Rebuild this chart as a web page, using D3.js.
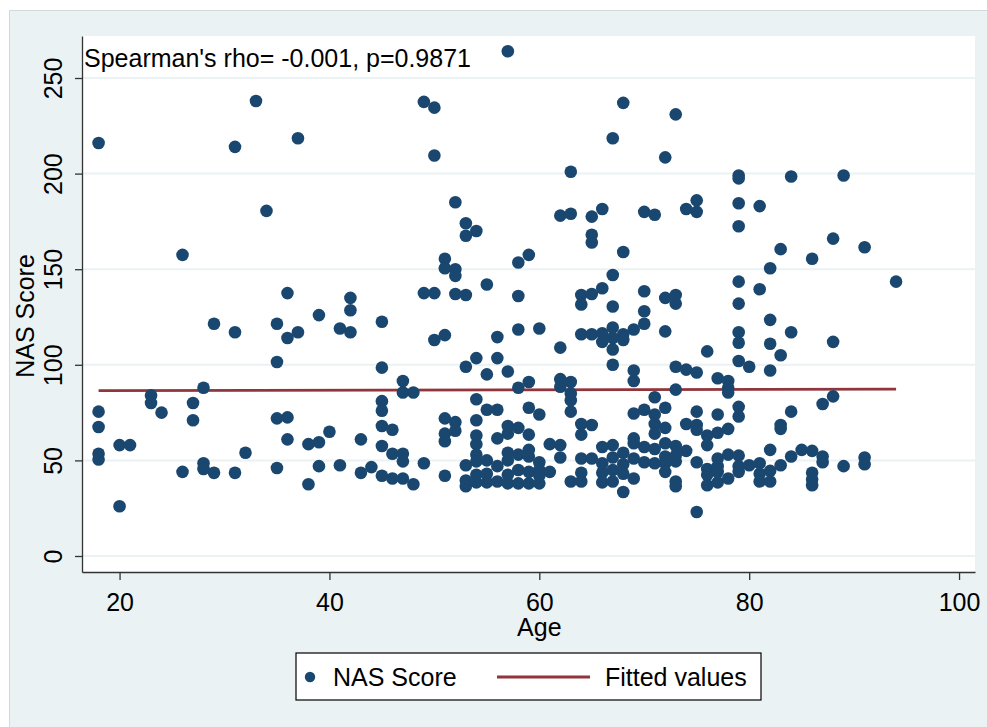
<!DOCTYPE html>
<html>
<head>
<meta charset="utf-8">
<script src="https://cdn.jsdelivr.net/npm/d3@7"></script>
<style>
  body { margin: 0; background: #fff; }
  svg text { font-family: "Liberation Sans", Arial, sans-serif; fill: #000; }
</style>
</head>
<body>
<div id="chart"></div>
<script>
// ages that have at least one patient, and the NAS scores seen at each age
const ages = [18, 20, 21, 23, 24, 26, 27, 28, 29, 31, 32, 33, 34, 35, 36, 37, 38, 39, 40, 41,
  42, 43, 44, 45, 46, 47, 48, 49, 50, 51, 52, 53, 54, 55, 56, 57, 58, 59, 60, 61,
  62, 63, 64, 65, 66, 67, 68, 69, 70, 71, 72, 73, 74, 75, 76, 77, 78, 79, 80, 81,
  82, 83, 84, 85, 86, 87, 88, 89, 91, 94];

const scoresAtAge = [
  [216, 75.5, 67.5, 53.5, 50.5],          // 18
  [58, 26],                               // 20
  [58],                                   // 21
  [84, 80],                               // 23
  [75],                                   // 24
  [157.5, 44],                            // 26
  [80, 71],                               // 27
  [88, 48.5, 45.5],                       // 28
  [121.5, 43.5],                          // 29
  [214, 117, 43.5],                       // 31
  [54],                                   // 32
  [238],                                  // 33
  [180.5],                                // 34
  [121.5, 101.5, 72, 46],                 // 35
  [137.5, 114, 72.5, 61],                 // 36
  [218.5, 117],                           // 37
  [58.5, 37.5],                           // 38
  [126, 59.5, 47],                        // 39
  [65],                                   // 40
  [119, 47.5],                            // 41
  [135, 128.5, 117],                      // 42
  [61, 43.5],                             // 43
  [46.5],                                 // 44
  [122.5, 98.5, 81, 76, 68, 57.5, 42],    // 45
  [66, 53.5, 40.5],                       // 46
  [91.5, 85.5, 53.5, 49.5, 40.5],         // 47
  [85.5, 37.5],                           // 48
  [237.5, 137.5, 48.5],                   // 49
  [234.5, 209.5, 137.5, 113],             // 50
  [155.5, 150.5, 115.5, 72, 64, 60, 42],  // 51
  [185, 150, 146.5, 137, 70, 65.5],       // 52
  [174, 167.5, 136.5, 99, 47.5, 39.5, 36.5], // 53
  [170, 103.5, 82, 71, 63, 58.5, 53, 49.5, 42.5, 38.5], // 54
  [142, 95, 76.5, 50, 43, 38.5],          // 55
  [114.5, 103.5, 76.5, 61.5, 47, 39],     // 56
  [264, 96.5, 68, 64, 54, 50, 42.5, 38],  // 57
  [153.5, 136, 118.5, 88, 67, 53, 45, 38], // 58
  [157.5, 91, 77.5, 63.5, 55.5, 52, 44, 38], // 59
  [119, 74, 49, 45, 42, 38],              // 60
  [58.5, 44],                             // 61
  [178, 109, 92.5, 88.5, 58, 51.5],       // 62
  [201, 179, 91, 85, 81.5, 75.5, 39],     // 63
  [136.5, 131.5, 116, 69, 63.5, 51, 43.5, 39], // 64
  [177.5, 168, 164, 137, 116, 68.5, 51],  // 65
  [181.5, 140, 116.5, 112, 57, 48.5, 43.5, 38.5], // 66
  [218.5, 147, 130.5, 119.5, 114, 108, 100, 58, 51.5, 45, 39], // 67
  [237, 159, 116, 113, 54, 48, 43, 33.5], // 68
  [118.5, 97, 91.5, 74.5, 61.5, 59, 51, 40.5], // 69
  [180, 138.5, 128, 121.5, 76.5, 57, 49], // 70
  [178.5, 83, 74, 69, 64, 56, 48.5],      // 71
  [208.5, 135, 117.5, 77.5, 67, 59, 52, 48.5, 44], // 72
  [231, 136.5, 132, 99, 87, 57.5, 52.5, 49.5, 39, 36.5], // 73
  [181.5, 97.5, 69, 55],                  // 74
  [186, 180, 96, 75.5, 68.5, 66, 49, 23], // 75
  [107, 63, 58, 45.5, 42.5, 37],          // 76
  [93, 74, 64.5, 51, 47, 44, 38.5],       // 77
  [91.5, 88, 85.5, 66.5, 53, 40.5],       // 78
  [199, 197.5, 184.5, 172.5, 143.5, 132, 117, 111.5, 102, 78, 73, 52.5, 47, 44], // 79
  [99, 47.5],                             // 80
  [183, 139.5, 48.5, 43, 39],             // 81
  [150.5, 123.5, 111, 97, 55.5, 44.5, 39], // 82
  [160.5, 105, 68.5, 66.5, 47.5],         // 83
  [198.5, 117, 75.5, 52],                 // 84
  [55.5],                                 // 85
  [155.5, 55, 43.5, 40, 37],              // 86
  [79.5, 52, 49],                         // 87
  [166, 112, 83.5],                       // 88
  [199, 47],                              // 89
  [161.5, 51.5, 48],                      // 91
  [143.5]                                 // 94
];

// linear fit
const fitAge = [18, 94];
const fitScore = [86.5, 87.3];

const xTicks = [20, 40, 60, 80, 100];
const yTicks = [0, 50, 100, 150, 200, 250];
const statLabel = "Spearman's rho= -0.001, p=0.9871";

const W = 987, H = 727;
const bg = "#eaf2f3", navy = "#1a476f", maroon = "#90353b";
const plot = { left: 82, right: 975, top: 36, bottom: 572 };
const fs = 25;

const points = [];
ages.forEach((a, i) => scoresAtAge[i].forEach(s => points.push({ age: a, score: s })));

const x = d3.scaleLinear().domain([16.42, 101.52]).range([plot.left, plot.right]);
const y = d3.scaleLinear().domain([-8.37, 271.97]).range([plot.bottom, plot.top]);

const svg = d3.select("#chart").append("svg")
    .attr("width", W).attr("height", H);

// graph region
svg.append("rect")
    .attr("x", 9.5).attr("y", 10.5)
    .attr("width", W - 9).attr("height", H - 10)
    .attr("fill", bg).attr("stroke", "#d2d9db");

// plot region
svg.append("rect")
    .attr("x", plot.left).attr("y", plot.top)
    .attr("width", plot.right - plot.left).attr("height", plot.bottom - plot.top)
    .attr("fill", "#fff");

// horizontal grid
svg.append("g").selectAll("line")
    .data(yTicks)
    .join("line")
    .attr("x1", plot.left).attr("x2", plot.right)
    .attr("y1", d => y(d)).attr("y2", d => y(d))
    .attr("stroke", bg).attr("stroke-width", 2);

svg.append("text")
    .attr("x", 84).attr("y", 67)
    .attr("font-size", fs)
    .text(statLabel);

// fitted line
svg.append("path")
    .datum(fitAge.map((a, i) => [a, fitScore[i]]))
    .attr("d", d3.line().x(d => x(d[0])).y(d => y(d[1])))
    .attr("stroke", maroon).attr("stroke-width", 2.8).attr("fill", "none");

svg.append("g").selectAll("circle")
    .data(points)
    .join("circle")
    .attr("cx", d => x(d.age))
    .attr("cy", d => y(d.score))
    .attr("r", 6.3)
    .attr("fill", navy);

// axes
const yAxis = svg.append("g")
    .attr("transform", `translate(${plot.left},0)`)
    .call(d3.axisLeft(y).tickValues(yTicks).tickSize(7).tickSizeOuter(0).tickFormat(d3.format("d")));
yAxis.selectAll("text")
    .attr("x", null).attr("dy", null)
    .attr("transform", "translate(-20,0) rotate(-90)")
    .attr("text-anchor", "middle")
    .attr("font-size", fs);

const xAxis = svg.append("g")
    .attr("transform", `translate(0,${plot.bottom})`)
    .call(d3.axisBottom(x).tickValues(xTicks).tickSize(8).tickSizeOuter(0).tickPadding(13).tickFormat(d3.format("d")));
xAxis.selectAll("text").attr("font-size", fs);

svg.selectAll(".domain, .tick line").attr("stroke", "#333").attr("stroke-width", 1.3);
svg.selectAll(".tick text").attr("fill", "#000").attr("font-family", "Liberation Sans, Arial, sans-serif");

svg.append("text")
    .attr("x", (x(20) + x(100)) / 2).attr("y", 636)
    .attr("text-anchor", "middle").attr("font-size", fs)
    .text("Age");

svg.append("text")
    .attr("transform", `translate(34,${(plot.top + plot.bottom) / 2 + 12}) rotate(-90)`)
    .attr("text-anchor", "middle").attr("font-size", fs)
    .text("NAS Score");

// legend
const lg = svg.append("g");
lg.append("rect")
    .attr("x", 296).attr("y", 653).attr("width", 465).attr("height", 47)
    .attr("fill", "#fff").attr("stroke", "#000").attr("stroke-width", 1.2);
lg.append("circle").attr("cx", 310).attr("cy", 677).attr("r", 5.2).attr("fill", navy);
lg.append("text").attr("x", 333).attr("y", 686).attr("font-size", fs).text("NAS Score");
lg.append("line").attr("x1", 497).attr("x2", 590).attr("y1", 677).attr("y2", 677)
    .attr("stroke", maroon).attr("stroke-width", 2.8);
lg.append("text").attr("x", 605).attr("y", 686).attr("font-size", fs).text("Fitted values");
</script>
</body>
</html>
